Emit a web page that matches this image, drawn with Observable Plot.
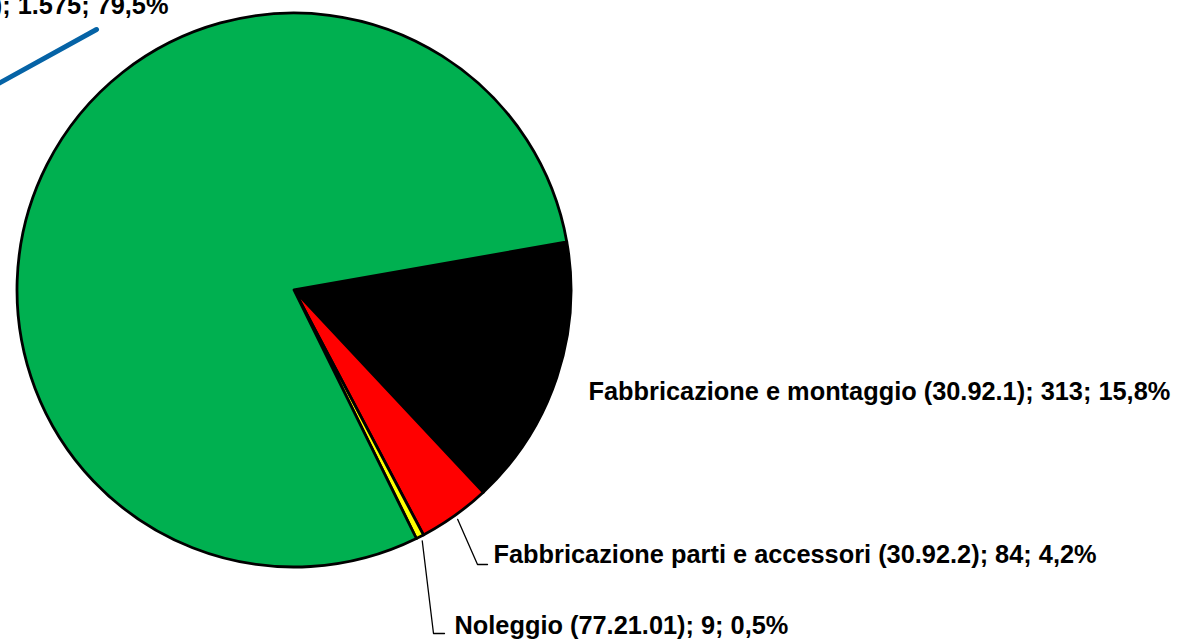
<!DOCTYPE html>
<html><head><meta charset="utf-8">
<script src="https://cdn.jsdelivr.net/npm/d3@7"></script>
<script src="https://cdn.jsdelivr.net/npm/@observablehq/plot@0.6"></script>
<style>
html,body{margin:0;padding:0;background:#fff;overflow:hidden}
</style>
</head><body><div id="chart"></div>
<script>
// ---- data ----
const categories = ["Fabbricazione e montaggio (30.92.1)", "Fabbricazione parti e accessori (30.92.2)", "Noleggio (77.21.01)", "Commercio al dettaglio (47.64.10)"];
const values = [313, 84, 9, 1575];
const valueLabels = ["313", "84", "9", "1.575"];
const percentLabels = ["15,8%", "4,2%", "0,5%", "79,5%"];
const colors = ["#000000", "#ff0000", "#ffff00", "#00b050"];

// ---- layout ----
const W = 1177, H = 641;
const CX = 294, CY = 290, R = 277;
const START_DEG = 80;
const labelPos = [
  {x: 588, y: 391, anchor: "start"},
  {x: 493, y: 554, anchor: "start"},
  {x: 454, y: 625, anchor: "start"},
  {x: 168, y: 5, anchor: "end"}
];
const leaderElbows = [null, [[477, 564], [487, 564]], [[433, 633], [444, 633]], null];
const blueLeader = [[96, 29], [-20, 93]];
const TEXT_SQUEEZE = 0.975;

const font = "'Liberation Sans', Arial, sans-serif";

const data = categories.map((c, i) => ({
  category: c, value: values[i], color: colors[i],
  label: `${c}; ${valueLabels[i]}; ${percentLabels[i]}`
}));

const rad = d => d * Math.PI / 180;
const arcs = d3.pie().sort(null).value(d => d.value)
  .startAngle(rad(START_DEG)).endAngle(rad(START_DEG + 360))(data);

const polar = (a, r) => [CX + r * Math.sin(a), CY - r * Math.cos(a)];

const labels = data.map((d, i) => ({...d, ...labelPos[i]}));

const leaders = [];
arcs.forEach((a, i) => {
  if (!leaderElbows[i]) return;
  const mid = (a.startAngle + a.endAngle) / 2;
  const p0 = polar(mid, R + 4);
  [p0, ...leaderElbows[i]].forEach(([x, y]) => leaders.push({k: i, x, y}));
});

function pieMark(index, scales) {
  const g = d3.create("svg:g")
    .attr("transform", `translate(${scales.x(CX)},${scales.y(CY)})`);
  const arc = d3.arc().innerRadius(0).outerRadius(scales.x(CX + R) - scales.x(CX));
  g.selectAll("path").data(arcs).join("path")
    .attr("d", arc)
    .attr("fill", d => d.data.color)
    .attr("stroke", "#000")
    .attr("stroke-width", 2.8)
    .attr("stroke-linejoin", "round");
  return g.node();
}

const chart = Plot.plot({
  width: W, height: H,
  margin: 0,
  x: {domain: [0, W], range: [0, W], axis: null},
  y: {domain: [0, H], range: [0, H], axis: null},
  style: {background: "#fff", overflow: "hidden"},
  marks: [
    pieMark,
    Plot.line(leaders, {x: "x", y: "y", z: "k", stroke: "#000", strokeWidth: 1.3}),
    Plot.line(blueLeader.map(([x, y]) => ({x, y})), {x: "x", y: "y", stroke: "#0563a6", strokeWidth: 5}),
    Plot.text(labels.filter(d => d.anchor === "start"), {x: "x", y: "y", text: "label", textAnchor: "start",
      fontSize: 26, fontWeight: "bold", fill: "#000", fontFamily: font}),
    Plot.text(labels.filter(d => d.anchor === "end"), {x: "x", y: "y", text: "label", textAnchor: "end",
      fontSize: 26, fontWeight: "bold", fill: "#000", fontFamily: font})
  ]
});
document.getElementById("chart").appendChild(chart);
// condense the bold labels slightly to mimic the narrow font of the reference
chart.querySelectorAll("text").forEach(t => {
  const w = t.getComputedTextLength();
  t.setAttribute("textLength", (w * TEXT_SQUEEZE).toFixed(1));
  t.setAttribute("lengthAdjust", "spacingAndGlyphs");
});
</script>
</body></html>
